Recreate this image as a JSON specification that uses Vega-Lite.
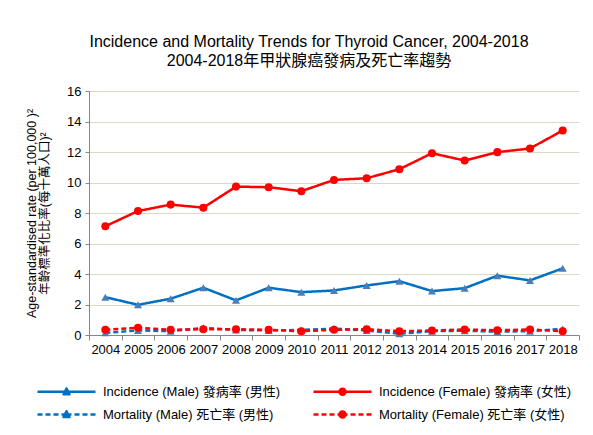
{
  "$schema": "https://vega.github.io/schema/vega-lite/v6.json",
  "autosize": "none",
  "width": 490,
  "height": 244,
  "padding": {"left": 89, "top": 91, "right": 14, "bottom": 100},
  "background": "white",
  "config": {
    "view": {"stroke": null},
    "font": "Liberation Sans, Noto Sans CJK TC, sans-serif"
  },
  "title": {
    "text": ["Incidence and Mortality Trends for Thyroid Cancer, 2004-2018", "2004-2018年甲狀腺癌發病及死亡率趨勢"],
    "fontSize": 16,
    "fontWeight": "normal",
    "color": "#000000",
    "lineHeight": 19,
    "anchor": "middle",
    "frame": "group",
    "dx": -25,
    "offset": 16,
    "font": "Liberation Sans, Noto Sans CJK TC, sans-serif"
  },
  "data": {
    "values": [
      {"year": "2004", "series": "Incidence (Male) 發病率 (男性)", "measure": "Incidence", "sex": "Male", "value": 2.48},
      {"year": "2005", "series": "Incidence (Male) 發病率 (男性)", "measure": "Incidence", "sex": "Male", "value": 1.98},
      {"year": "2006", "series": "Incidence (Male) 發病率 (男性)", "measure": "Incidence", "sex": "Male", "value": 2.38},
      {"year": "2007", "series": "Incidence (Male) 發病率 (男性)", "measure": "Incidence", "sex": "Male", "value": 3.1},
      {"year": "2008", "series": "Incidence (Male) 發病率 (男性)", "measure": "Incidence", "sex": "Male", "value": 2.27},
      {"year": "2009", "series": "Incidence (Male) 發病率 (男性)", "measure": "Incidence", "sex": "Male", "value": 3.1},
      {"year": "2010", "series": "Incidence (Male) 發病率 (男性)", "measure": "Incidence", "sex": "Male", "value": 2.81},
      {"year": "2011", "series": "Incidence (Male) 發病率 (男性)", "measure": "Incidence", "sex": "Male", "value": 2.92},
      {"year": "2012", "series": "Incidence (Male) 發病率 (男性)", "measure": "Incidence", "sex": "Male", "value": 3.25},
      {"year": "2013", "series": "Incidence (Male) 發病率 (男性)", "measure": "Incidence", "sex": "Male", "value": 3.53},
      {"year": "2014", "series": "Incidence (Male) 發病率 (男性)", "measure": "Incidence", "sex": "Male", "value": 2.88},
      {"year": "2015", "series": "Incidence (Male) 發病率 (男性)", "measure": "Incidence", "sex": "Male", "value": 3.07},
      {"year": "2016", "series": "Incidence (Male) 發病率 (男性)", "measure": "Incidence", "sex": "Male", "value": 3.89},
      {"year": "2017", "series": "Incidence (Male) 發病率 (男性)", "measure": "Incidence", "sex": "Male", "value": 3.58},
      {"year": "2018", "series": "Incidence (Male) 發病率 (男性)", "measure": "Incidence", "sex": "Male", "value": 4.37},
      {"year": "2004", "series": "Incidence (Female) 發病率 (女性)", "measure": "Incidence", "sex": "Female", "value": 7.13},
      {"year": "2005", "series": "Incidence (Female) 發病率 (女性)", "measure": "Incidence", "sex": "Female", "value": 8.13},
      {"year": "2006", "series": "Incidence (Female) 發病率 (女性)", "measure": "Incidence", "sex": "Female", "value": 8.55},
      {"year": "2007", "series": "Incidence (Female) 發病率 (女性)", "measure": "Incidence", "sex": "Female", "value": 8.35},
      {"year": "2008", "series": "Incidence (Female) 發病率 (女性)", "measure": "Incidence", "sex": "Female", "value": 9.73},
      {"year": "2009", "series": "Incidence (Female) 發病率 (女性)", "measure": "Incidence", "sex": "Female", "value": 9.69},
      {"year": "2010", "series": "Incidence (Female) 發病率 (女性)", "measure": "Incidence", "sex": "Female", "value": 9.43},
      {"year": "2011", "series": "Incidence (Female) 發病率 (女性)", "measure": "Incidence", "sex": "Female", "value": 10.17},
      {"year": "2012", "series": "Incidence (Female) 發病率 (女性)", "measure": "Incidence", "sex": "Female", "value": 10.28},
      {"year": "2013", "series": "Incidence (Female) 發病率 (女性)", "measure": "Incidence", "sex": "Female", "value": 10.87},
      {"year": "2014", "series": "Incidence (Female) 發病率 (女性)", "measure": "Incidence", "sex": "Female", "value": 11.92},
      {"year": "2015", "series": "Incidence (Female) 發病率 (女性)", "measure": "Incidence", "sex": "Female", "value": 11.44},
      {"year": "2016", "series": "Incidence (Female) 發病率 (女性)", "measure": "Incidence", "sex": "Female", "value": 11.99},
      {"year": "2017", "series": "Incidence (Female) 發病率 (女性)", "measure": "Incidence", "sex": "Female", "value": 12.23},
      {"year": "2018", "series": "Incidence (Female) 發病率 (女性)", "measure": "Incidence", "sex": "Female", "value": 13.41},
      {"year": "2004", "series": "Mortality (Male) 死亡率 (男性)", "measure": "Mortality", "sex": "Male", "value": 0.14},
      {"year": "2005", "series": "Mortality (Male) 死亡率 (男性)", "measure": "Mortality", "sex": "Male", "value": 0.3},
      {"year": "2006", "series": "Mortality (Male) 死亡率 (男性)", "measure": "Mortality", "sex": "Male", "value": 0.25},
      {"year": "2007", "series": "Mortality (Male) 死亡率 (男性)", "measure": "Mortality", "sex": "Male", "value": 0.47},
      {"year": "2008", "series": "Mortality (Male) 死亡率 (男性)", "measure": "Mortality", "sex": "Male", "value": 0.33},
      {"year": "2009", "series": "Mortality (Male) 死亡率 (男性)", "measure": "Mortality", "sex": "Male", "value": 0.3},
      {"year": "2010", "series": "Mortality (Male) 死亡率 (男性)", "measure": "Mortality", "sex": "Male", "value": 0.33},
      {"year": "2011", "series": "Mortality (Male) 死亡率 (男性)", "measure": "Mortality", "sex": "Male", "value": 0.42},
      {"year": "2012", "series": "Mortality (Male) 死亡率 (男性)", "measure": "Mortality", "sex": "Male", "value": 0.3},
      {"year": "2013", "series": "Mortality (Male) 死亡率 (男性)", "measure": "Mortality", "sex": "Male", "value": 0.08},
      {"year": "2014", "series": "Mortality (Male) 死亡率 (男性)", "measure": "Mortality", "sex": "Male", "value": 0.25},
      {"year": "2015", "series": "Mortality (Male) 死亡率 (男性)", "measure": "Mortality", "sex": "Male", "value": 0.28},
      {"year": "2016", "series": "Mortality (Male) 死亡率 (男性)", "measure": "Mortality", "sex": "Male", "value": 0.22},
      {"year": "2017", "series": "Mortality (Male) 死亡率 (男性)", "measure": "Mortality", "sex": "Male", "value": 0.25},
      {"year": "2018", "series": "Mortality (Male) 死亡率 (男性)", "measure": "Mortality", "sex": "Male", "value": 0.4},
      {"year": "2004", "series": "Mortality (Female) 死亡率 (女性)", "measure": "Mortality", "sex": "Female", "value": 0.34},
      {"year": "2005", "series": "Mortality (Female) 死亡率 (女性)", "measure": "Mortality", "sex": "Female", "value": 0.47},
      {"year": "2006", "series": "Mortality (Female) 死亡率 (女性)", "measure": "Mortality", "sex": "Female", "value": 0.34},
      {"year": "2007", "series": "Mortality (Female) 死亡率 (女性)", "measure": "Mortality", "sex": "Female", "value": 0.38},
      {"year": "2008", "series": "Mortality (Female) 死亡率 (女性)", "measure": "Mortality", "sex": "Female", "value": 0.38},
      {"year": "2009", "series": "Mortality (Female) 死亡率 (女性)", "measure": "Mortality", "sex": "Female", "value": 0.34},
      {"year": "2010", "series": "Mortality (Female) 死亡率 (女性)", "measure": "Mortality", "sex": "Female", "value": 0.25},
      {"year": "2011", "series": "Mortality (Female) 死亡率 (女性)", "measure": "Mortality", "sex": "Female", "value": 0.34},
      {"year": "2012", "series": "Mortality (Female) 死亡率 (女性)", "measure": "Mortality", "sex": "Female", "value": 0.38},
      {"year": "2013", "series": "Mortality (Female) 死亡率 (女性)", "measure": "Mortality", "sex": "Female", "value": 0.25},
      {"year": "2014", "series": "Mortality (Female) 死亡率 (女性)", "measure": "Mortality", "sex": "Female", "value": 0.29},
      {"year": "2015", "series": "Mortality (Female) 死亡率 (女性)", "measure": "Mortality", "sex": "Female", "value": 0.36},
      {"year": "2016", "series": "Mortality (Female) 死亡率 (女性)", "measure": "Mortality", "sex": "Female", "value": 0.31},
      {"year": "2017", "series": "Mortality (Female) 死亡率 (女性)", "measure": "Mortality", "sex": "Female", "value": 0.36},
      {"year": "2018", "series": "Mortality (Female) 死亡率 (女性)", "measure": "Mortality", "sex": "Female", "value": 0.25}
    ]
  },
  "encoding": {
    "x": {
      "field": "year",
      "type": "ordinal",
      "bandPosition": 0.5,
      "scale": {"type": "band", "paddingInner": 0, "paddingOuter": 0},
      "axis": {
        "title": null,
        "labelAngle": 0,
        "labelFontSize": 13,
        "labelColor": "#000000",
        "labelPadding": 3,
        "tickBand": "extent",
        "tickSize": 5,
        "tickColor": "#868686",
        "domainColor": "#868686",
        "grid": false
      }
    },
    "y": {
      "field": "value",
      "type": "quantitative",
      "scale": {"domain": [0, 16], "nice": false},
      "axis": {
        "title": ["Age-standardised rate (per 100,000 )²", "年齡標準化比率(每十萬人口)²"],
        "titleFontSize": 12.5,
        "titleFontWeight": "normal",
        "titleColor": "#000000",
        "titleLineHeight": 13,
        "titlePadding": 15,
        "values": [0, 2, 4, 6, 8, 10, 12, 14, 16],
        "labelFontSize": 13,
        "labelColor": "#000000",
        "labelPadding": 4,
        "tickSize": 4,
        "tickColor": "#868686",
        "domainColor": "#868686",
        "grid": true,
        "gridColor": "#ddd8c4",
        "gridWidth": 1.2
      }
    }
  },
  "layer": [
    {
      "mark": {"type": "line", "strokeWidth": 2.5},
      "encoding": {
        "detail": {"field": "series", "type": "nominal"},
        "color": {
          "field": "series",
          "type": "nominal",
          "scale": {
            "domain": ["Incidence (Male) 發病率 (男性)", "Incidence (Female) 發病率 (女性)", "Mortality (Male) 死亡率 (男性)", "Mortality (Female) 死亡率 (女性)"],
            "range": ["#0070c0", "#ff0000", "#0070c0", "#ff0000"]
          },
          "legend": {
            "title": null,
            "orient": "none",
            "direction": "horizontal",
            "legendX": -30,
            "legendY": 293,
            "columns": 2,
            "columnPadding": 32,
            "rowPadding": 8,
            "symbolSize": 144,
            "symbolStrokeWidth": 2.5,
            "labelFontSize": 13,
            "labelColor": "#000000",
            "labelOffset": 29,
            "labelLimit": 400,
            "encode": {
              "symbols": {
                "update": {
                  "shape": {"signal": "indexof(datum.value, 'Mortality') >= 0 ? (indexof(datum.value, 'Female') >= 0 ? 'M-4.833,0H-4M-3.5,0H-2.667M-2.167,0H-1.333M-0.833,0H0.833M1.333,0H2.167M2.667,0H3.5M4,0H4.833M-0.5,0A0.5,0.5,0,1,0,0.5,0A0.5,0.5,0,1,0,-0.5,0Z' : 'M-4.833,0H-4M-3.5,0H-2.667M-2.167,0H-1.333M-0.833,0H0.833M1.333,0H2.167M2.667,0H3.5M4,0H4.833M-0.5,0.42L0,-0.55L0.5,0.42Z') : (indexof(datum.value, 'Female') >= 0 ? 'M-4.833,0H4.833M-0.5,0A0.5,0.5,0,1,0,0.5,0A0.5,0.5,0,1,0,-0.5,0Z' : 'M-4.833,0H4.833M-0.5,0.42L0,-0.55L0.5,0.42Z')"},
                  "fill": {"signal": "indexof(datum.value, 'Female') >= 0 ? '#ff0000' : '#4a7ebb'"},
                  "strokeJoin": {"value": "round"},
                  "strokeWidth": {"value": 2.5}
                }
              }
            }
          }
        },
        "strokeDash": {
          "field": "measure",
          "type": "nominal",
          "legend": null,
          "scale": {
            "domain": ["Incidence", "Mortality"],
            "range": [[1, 0], [5, 3]]
          }
        }
      }
    },
    {
      "mark": {"type": "point", "filled": true, "size": 65, "opacity": 1, "strokeWidth": 0},
      "encoding": {
        "shape": {
          "field": "sex",
          "type": "nominal",
          "scale": {"domain": ["Male", "Female"], "range": ["triangle-up", "circle"]},
          "legend": null
        },
        "fill": {
          "field": "sex",
          "type": "nominal",
          "scale": {"domain": ["Male", "Female"], "range": ["#4a7ebb", "#ff0000"]},
          "legend": null
        }
      }
    }
  ]
}
